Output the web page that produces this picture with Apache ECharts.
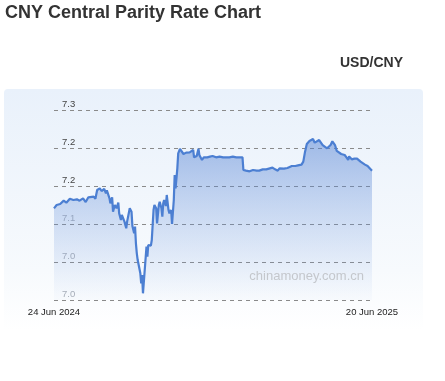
<!DOCTYPE html>
<html>
<head>
<meta charset="utf-8">
<script src="https://cdn.jsdelivr.net/npm/echarts@6/dist/echarts.min.js"></script>
<style>
html,body{margin:0;padding:0;background:#fff;}
#chart{width:445px;height:381px;}
</style>
</head>
<body>
<div id="chart"></div>
<script>
var dates = ['2024-06-24','2024-06-27','2024-07-01','2024-07-05','2024-07-08','2024-07-12','2024-07-16','2024-07-20','2024-07-23','2024-07-27','2024-07-30','2024-08-02','2024-08-04','2024-08-08','2024-08-10','2024-08-12','2024-08-15','2024-08-17','2024-08-20','2024-08-22','2024-08-23','2024-08-26','2024-08-27','2024-08-29','2024-08-30','2024-09-01','2024-09-03','2024-09-05','2024-09-06','2024-09-08','2024-09-09','2024-09-11','2024-09-12','2024-09-14','2024-09-15','2024-09-17','2024-09-18','2024-09-20','2024-09-21','2024-09-23','2024-09-24','2024-09-25','2024-09-26','2024-09-27','2024-09-29','2024-09-30','2024-10-01','2024-10-02','2024-10-03','2024-10-04','2024-10-05','2024-10-07','2024-10-08','2024-10-09','2024-10-12','2024-10-13','2024-10-15','2024-10-16','2024-10-18','2024-10-19','2024-10-21','2024-10-22','2024-10-24','2024-10-25','2024-10-26','2024-10-27','2024-10-29','2024-10-30','2024-11-01','2024-11-02','2024-11-04','2024-11-05','2024-11-07','2024-11-08','2024-11-09','2024-11-11','2024-11-12','2024-11-14','2024-11-16','2024-11-18','2024-11-21','2024-11-23','2024-11-25','2024-11-27','2024-11-29','2024-11-30','2024-12-03','2024-12-05','2024-12-06','2024-12-09','2024-12-11','2024-12-13','2024-12-15','2024-12-18','2024-12-21','2024-12-25','2024-12-29','2025-01-02','2025-01-06','2025-01-09','2025-01-13','2025-01-17','2025-01-21','2025-01-24','2025-01-25','2025-01-28','2025-02-01','2025-02-05','2025-02-09','2025-02-12','2025-02-16','2025-02-20','2025-02-24','2025-02-27','2025-03-02','2025-03-05','2025-03-07','2025-03-09','2025-03-12','2025-03-14','2025-03-16','2025-03-18','2025-03-21','2025-03-23','2025-03-25','2025-03-28','2025-04-01','2025-04-03','2025-04-05','2025-04-07','2025-04-10','2025-04-14','2025-04-16','2025-04-18','2025-04-21','2025-04-23','2025-04-25','2025-04-27','2025-04-30','2025-05-02','2025-05-04','2025-05-06','2025-05-09','2025-05-11','2025-05-13','2025-05-16','2025-05-18','2025-05-20','2025-05-22','2025-05-24','2025-05-25','2025-05-28','2025-05-29','2025-05-31','2025-06-03','2025-06-05','2025-06-07','2025-06-09','2025-06-12','2025-06-15','2025-06-17','2025-06-20'];
var rates = [7.1206,7.1250,7.1263,7.1307,7.1281,7.1333,7.1316,7.1325,7.1307,7.1338,7.1289,7.1351,7.1333,7.1360,7.1333,7.1447,7.1469,7.1434,7.1461,7.1404,7.1443,7.1338,7.1272,7.1351,7.1162,7.1250,7.1206,7.1281,7.1140,7.1053,7.1118,7.1140,7.1031,7.0943,7.1031,7.1149,7.1206,7.1162,7.0974,7.0877,7.0965,7.0746,7.0614,7.0526,7.0504,7.0351,7.0219,7.0329,7.0088,7.0066,7.0395,7.0702,7.0570,7.0724,7.0715,7.0789,7.1184,7.1250,7.1206,7.1009,7.1250,7.1294,7.1206,7.1096,7.1272,7.1316,7.1237,7.1382,7.1184,7.1140,7.1184,7.1000,7.1316,7.1645,7.1469,7.1732,7.1930,7.1987,7.1974,7.1921,7.1939,7.1930,7.1943,7.1921,7.1974,7.1877,7.1895,7.1991,7.1908,7.1842,7.1877,7.1860,7.1877,7.1886,7.1895,7.1877,7.1886,7.1877,7.1877,7.1877,7.1886,7.1877,7.1877,7.1877,7.1711,7.1702,7.1693,7.1711,7.1702,7.1702,7.1719,7.1719,7.1732,7.1741,7.1719,7.1702,7.1732,7.1711,7.1728,7.1702,7.1737,7.1732,7.1763,7.1781,7.1763,7.1772,7.1781,7.1820,7.1952,7.2053,7.2092,7.2118,7.2070,7.2083,7.2105,7.2079,7.2039,7.2018,7.1996,7.2009,7.2039,7.2088,7.2039,7.1961,7.1939,7.1921,7.1904,7.1908,7.1877,7.1842,7.1890,7.1851,7.1877,7.1860,7.1860,7.1838,7.1820,7.1798,7.1781,7.1763,7.1737,7.1702];
var endLabels = ['24 Jun 2024','20 Jun 2025'];
var chartTitle = 'CNY Central Parity Rate Chart';
var pairName = 'USD/CNY';
var watermark = 'chinamoney.com.cn';

var FONT = 'Arial, "Liberation Sans", sans-serif';
var chart = echarts.init(document.getElementById('chart'), null, {renderer:'canvas'});
var seriesData = dates.map(function(d,i){ return [d, rates[i]]; });

chart.setOption({
  animation: false,
  backgroundColor: '#ffffff',
  graphic: [
    { type:'rect', z:-10, shape:{x:4,y:89,width:419,height:242,r:4},
      style:{ fill: new echarts.graphic.LinearGradient(0,0,0,1,[
        {offset:0,color:'#e9f1fb'},{offset:0.75,color:'#f7fafd'},{offset:1,color:'#ffffff'}]) } },
    { type:'text', left:5, top:4, z:10,
      style:{ text:chartTitle, font:'bold 18px '+FONT, fill:'#333333' } },
    { type:'text', z:10, x:403, y:63,
      style:{ text:pairName, font:'bold 14px '+FONT, fill:'#333333', align:'right', verticalAlign:'middle' } },
    { type:'text', z:10, x:364, y:276,
      style:{ text:watermark, font:'13px '+FONT, fill:'#c4c7cc', align:'right', verticalAlign:'middle' } }
  ],
  grid: { left:54, right:73, top:110, bottom:81, containLabel:false },
  xAxis: [
    { type:'time', min:'2024-06-24', max:'2025-06-20', show:false },
    { type:'category', data:endLabels, boundaryGap:false, position:'bottom',
      axisLine:{show:false}, axisTick:{show:false}, splitLine:{show:false},
      axisLabel:{ show:true, interval:0, margin:7, fontSize:9.5, color:'#222', fontFamily:FONT } }
  ],
  yAxis: {
    type:'value', min:7.0, max:7.25, interval:0.05,
    axisLine:{show:false}, axisTick:{show:false},
    axisLabel:{ inside:true, margin:8, fontSize:9.5, fontFamily:FONT,
      color:function(v){ return v <= 7.101 ? '#a8adb6' : '#444'; },
      verticalAlign:'bottom', padding:[0,0,1,0],
      formatter:function(v){ return v.toFixed(1); } },
    splitLine:{ show:true, lineStyle:{ color:'#8a8a8a', type:[4,4], width:1 } }
  },
  series: [{
    type:'line', xAxisIndex:0, data:seriesData, showSymbol:false, smooth:false,
    lineStyle:{ color:'#4c7fd2', width:2.2 },
    itemStyle:{ color:'#4c7fd2' },
    areaStyle:{ color: new echarts.graphic.LinearGradient(0,0,0,1,[
      {offset:0,color:'rgba(82,128,210,0.72)'},{offset:1,color:'rgba(120,160,225,0.04)'}]) }
  }]
});
</script>
</body>
</html>
